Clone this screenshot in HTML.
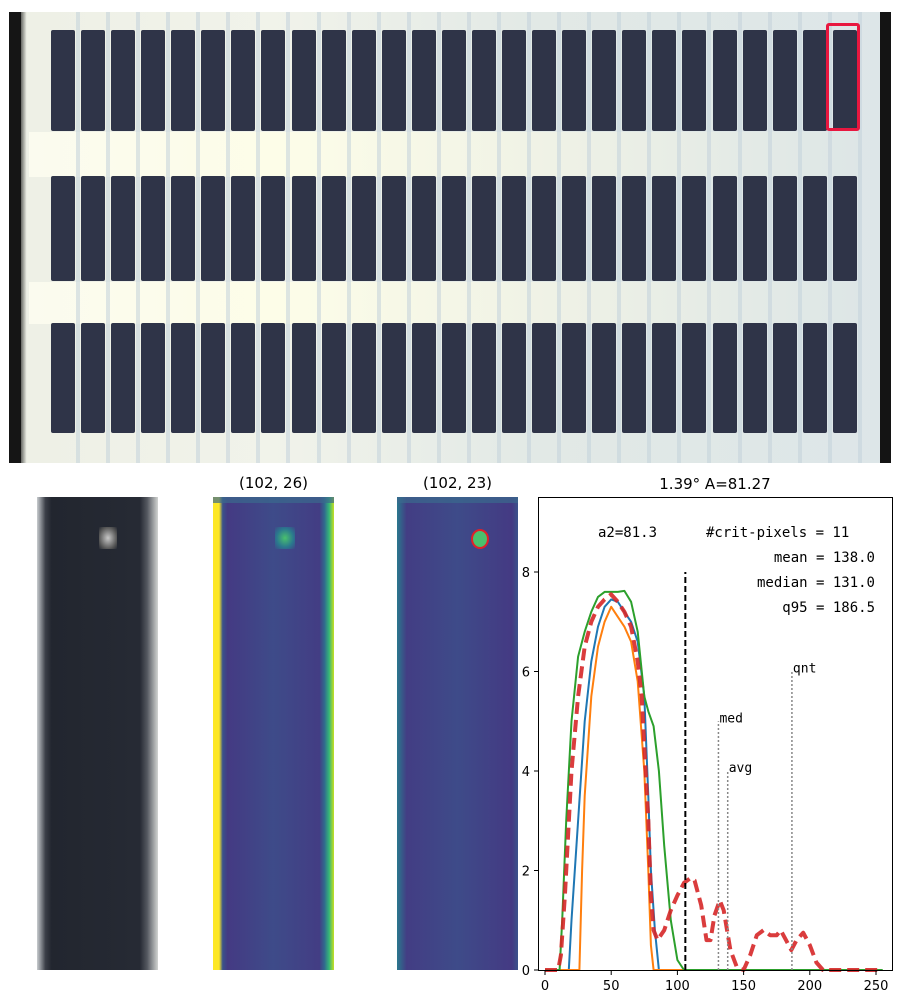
<!DOCTYPE html>
<html><head><meta charset="utf-8">
<style>
html,body{margin:0;padding:0;background:#fff;width:900px;height:1000px;overflow:hidden;position:relative;font-family:"DejaVu Sans","Liberation Sans",sans-serif}
.abs{position:absolute}
#panel{left:9px;top:12px;width:882px;height:451px;background:linear-gradient(90deg,#1a1a1a 0,#1a1a1a 1%,#eef0e6 2%,#f1f3ea 30%,#e2e9e6 60%,#dde6e8 100%)}
.band{position:absolute;left:20px;right:30px;background:linear-gradient(90deg,#fbfbef,#fdfde8 30%,#eef1e6 65%,#dde6e6 100%)}
.cell{position:absolute;background:#2f3448;border-radius:2px}
.gap{position:absolute;background:#c3d2da;opacity:.55}
.title{position:absolute;font-size:15px;color:#000;text-align:center;white-space:nowrap}
.thumb{position:absolute;top:497px;height:473px}
</style></head><body>
<div id="panel" class="abs">
  <div class="abs" style="left:0;top:0;width:12px;height:451px;background:#151515"></div>
  <div class="abs" style="right:0;top:0;width:11px;height:451px;background:#141414"></div>
  <div class="band" style="top:120px;height:45px"></div>
  <div class="band" style="top:270px;height:42px"></div>
  <div id="cells"></div>
  <div class="abs" style="left:817px;top:11px;width:28px;height:102px;border:3px solid #e8173f;border-radius:3px"></div>
</div>

<div class="title" style="left:213px;width:121px;top:474px">(102, 26)</div>
<div class="title" style="left:397px;width:121px;top:474px">(102, 23)</div>

<div class="thumb" style="left:37px;width:121px;background:linear-gradient(90deg,#c8cccf 0,#3a3e47 7%,#22262f 12%,#262a34 85%,#545860 91%,#d2d4d2 100%)">
  <div class="abs" style="left:62px;top:30px;width:18px;height:22px;background:radial-gradient(#c8c8c8,#555 70%,transparent)"></div>
</div>
<div class="thumb" style="left:213px;width:121px;background:linear-gradient(90deg,#fde725 0,#fde725 5%,#3b528b 8%,#443a83 12%,#3e4b89 50%,#433d84 88%,#31688e 92%,#35b779 96%,#c8e020 100%)">
  <div class="abs" style="left:62px;top:30px;width:20px;height:22px;background:radial-gradient(#4ac16d,#2a788e 60%,transparent)"></div>
  <div class="abs" style="left:0;top:0;width:121px;height:6px;background:#3b6a8d;opacity:.7"></div>
</div>
<div class="thumb" style="left:397px;width:121px;background:linear-gradient(90deg,#2a788e 0,#433d84 8%,#3e4b89 50%,#443a83 95%,#3b528b 100%)">
  <div class="abs" style="left:74px;top:32px;width:14px;height:16px;border:2px solid #e0202a;border-radius:50%;background:#4ac16d"></div>
  <div class="abs" style="left:0;top:0;width:121px;height:6px;background:#3b6a8d;opacity:.7"></div>
</div>

<svg class="abs" style="left:0;top:0" width="900" height="1000" id="chart">
  <text x="715" y="489" font-size="15" text-anchor="middle" font-family="DejaVu Sans, Liberation Sans, sans-serif">1.39° A=81.27</text>
  <g id="curves"></g>
  <g id="axes"></g>
  <g font-family="DejaVu Sans Mono, Liberation Mono, monospace" font-size="14" fill="#000">
    <text x="598" y="537">a2=81.3</text>
    <text x="706" y="537">#crit-pixels = 11</text>
    <text x="875" y="562" text-anchor="end">mean = 138.0</text>
    <text x="875" y="587" text-anchor="end">median = 131.0</text>
    <text x="875" y="612" text-anchor="end">q95 = 186.5</text>
  </g>
  <rect x="538.5" y="497.5" width="354" height="473" fill="none" stroke="#000" stroke-width="1"/>
</svg>

<script>
var cellCols = 27, cellRows = [[18,101],[164,105],[311,110]];
var cc = document.getElementById('cells');
for (var c=0;c<cellCols;c++){
  var g=document.createElement('div');g.className='gap';
  
  
  g.style.left=(67+c*30.07)+'px';g.style.top='0px';g.style.width='4px';g.style.height='451px';
  cc.appendChild(g);
}
for (var r=0;r<cellRows.length;r++){for(var c2=0;c2<cellCols;c2++){
  var d=document.createElement('div');d.className='cell';
  
  
  d.style.left=(42+c2*30.07)+'px';d.style.top=cellRows[r][0]+'px';d.style.width='24px';d.style.height=cellRows[r][1]+'px';
  cc.appendChild(d);}}
</script>
<script>
var xTicks=[0,50,100,150,200,250];
var yTicks=[0,2,4,6,8];
var blueX=[0,18,20,25,30,35,40,45,50,55,60,65,70,75,78,80,83,86,255];
var blueY=[0,0,1,3,5,6.2,6.9,7.3,7.45,7.4,7.2,7.0,6.6,5.5,3.5,2,0.8,0,0];
var orangeX=[0,26,28,30,35,40,45,50,55,60,65,70,75,78,80,82,255];
var orangeY=[0,0,2,3.5,5.5,6.5,7.0,7.3,7.1,6.9,6.6,5.8,4,2,0.5,0,0];
var greenX=[0,11,13,16,20,25,30,35,40,45,50,55,60,65,70,75,78,82,86,90,95,100,105,255];
var greenY=[0,0,1,3,5,6.3,6.8,7.2,7.5,7.6,7.6,7.6,7.62,7.4,6.8,5.5,5.2,4.9,4.0,2.5,1.0,0.2,0,0];
var redX=[0,10,12,15,20,25,30,35,40,45,50,55,60,65,70,73,75,78,80,82,85,90,95,100,105,110,113,118,122,125,128,132,135,140,145,150,155,160,165,170,175,178,182,186,190,195,200,205,210,255];
var redY=[0,0,0.3,1.5,4,5.5,6.5,7.0,7.3,7.45,7.55,7.4,7.2,6.9,6.2,5.5,4.5,3,1.5,0.8,0.6,0.8,1.2,1.5,1.75,1.85,1.8,1.3,0.6,0.6,1.1,1.4,1.2,0.4,0.05,0,0.3,0.7,0.8,0.7,0.7,0.8,0.6,0.4,0.6,0.75,0.5,0.15,0,0];
var threshX=106, threshTop=8;
var markerNames=['med','avg','qnt'];
var markerX=[131,138,186.5];
var markerTop=[5,4,6];

function sx(v){return 545+v*(876-545)/250;}
function sy(v){return 970-v*(970-572)/8;}
var NS='http://www.w3.org/2000/svg';
var curves=document.getElementById('curves'), axes=document.getElementById('axes');
function mk(tag,attrs,parent){var e=document.createElementNS(NS,tag);for(var k in attrs)e.setAttribute(k,attrs[k]);parent.appendChild(e);return e;}
function pts(X,Y){return X.map(function(x,i){return sx(x).toFixed(1)+','+sy(Y[i]).toFixed(1);}).join(' ');}

var l;
l=mk('polyline',{points:pts(blueX,blueY),fill:'none',stroke:'#1f77b4','stroke-width':2,'stroke-linejoin':'round'},curves);


l=mk('polyline',{points:pts(orangeX,orangeY),fill:'none',stroke:'#ff7f0e','stroke-width':2,'stroke-linejoin':'round'},curves);


l=mk('polyline',{points:pts(greenX,greenY),fill:'none',stroke:'#2ca02c','stroke-width':2,'stroke-linejoin':'round'},curves);


l=mk('polyline',{points:pts(redX,redY),fill:'none',stroke:'#d62728','stroke-width':4,'stroke-dasharray':'12,6','stroke-opacity':0.9,'stroke-linejoin':'round'},curves);


l=mk('line',{x1:sx(threshX),x2:sx(threshX),y1:sy(0),y2:sy(threshTop),stroke:'#000','stroke-width':2,'stroke-dasharray':'6,3'},curves);


for(var i=0;i<markerX.length;i++){
  l=mk('line',{x1:sx(markerX[i]),x2:sx(markerX[i]),y1:sy(0),y2:sy(markerTop[i]),stroke:'#888','stroke-width':1.5,'stroke-dasharray':'2,2'},curves);
  
  
  var t=mk('text',{x:sx(markerX[i])+1,y:sy(markerTop[i])+1,'font-size':13,'font-family':'DejaVu Sans Mono, Liberation Mono, monospace'},curves);
  t.textContent=markerNames[i];
  
  
}
xTicks.forEach(function(v){
  var tk=mk('line',{x1:sx(v),x2:sx(v),y1:970.5,y2:975,stroke:'#000'},axes);
  
  
  var t=mk('text',{x:sx(v),y:990,'font-size':13,'text-anchor':'middle','font-family':'DejaVu Sans, Liberation Sans, sans-serif'},axes);
  t.textContent=v;
  
  
});
yTicks.forEach(function(v){
  var tk=mk('line',{x1:534,x2:538.5,y1:sy(v),y2:sy(v),stroke:'#000'},axes);
  
  
  var t=mk('text',{x:530,y:sy(v)+5,'font-size':13,'text-anchor':'end','font-family':'DejaVu Sans, Liberation Sans, sans-serif'},axes);
  t.textContent=v;
  
  
});
</script>
</body></html>
